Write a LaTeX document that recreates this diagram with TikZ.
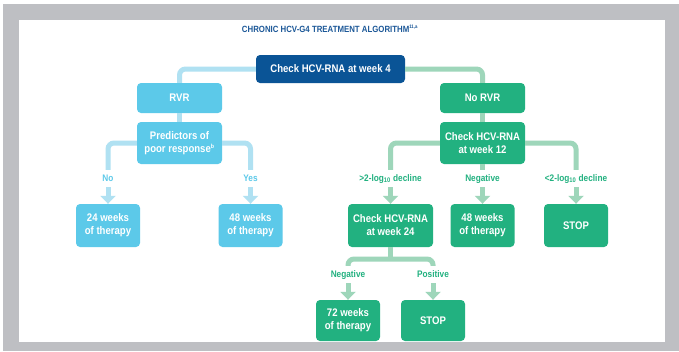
\documentclass[tikz,border=0pt]{standalone}
\usepackage{fontspec}
\setmainfont{Liberation Sans}[FakeStretch=0.87]
\usetikzlibrary{arrows.meta}
\definecolor{dblue}{RGB}{10,84,150}
\definecolor{tblue}{RGB}{28,88,152}
\definecolor{cnode}{RGB}{92,201,233}
\definecolor{cline}{RGB}{176,225,242}
\definecolor{gnode}{RGB}{34,177,128}
\definecolor{gline}{RGB}{158,214,186}
\definecolor{frame}{RGB}{190,191,195}
\begin{document}
\begin{tikzpicture}[x=1pt,y=-1pt,
  box/.style={rounded corners=4pt, text=white, align=center, inner sep=0pt,
    font=\bfseries\fontsize{11}{13}\selectfont},
  cbox/.style={box, fill=cnode},
  gbox/.style={box, fill=gnode},
  wide/.style={minimum width=85pt},
  narrow/.style={minimum width=64pt},
  lbl/.style={font=\bfseries\fontsize{9.5}{11}\selectfont, inner xsep=1pt,
    inner ysep=4pt, text height=7pt, text depth=1pt, anchor=base},
  clbl/.style={lbl, text=cnode},
  glbl/.style={lbl, text=gnode},
  cconn/.style={draw=cline, line width=5pt, rounded corners=6pt},
  gconn/.style={draw=gline, line width=5pt, rounded corners=6pt},
  carr/.style={draw=cline, line width=5pt, shorten <=1pt, -{Triangle[width=15pt,length=8pt]}},
  garr/.style={draw=gline, line width=5pt, shorten <=1pt, -{Triangle[width=15pt,length=8pt]}},
]
\useasboundingbox (0,0) rectangle (679,351);
\fill[white] (0,0) rectangle (679,351);
\fill[frame] (3,4) rectangle (679,351);
\fill[white] (19,20) rectangle (665,342);

\node[text=tblue, font=\bfseries\fontsize{9}{10}\selectfont] (title) at (330,29)
  {CHRONIC HCV-G4 TREATMENT ALGORITHM\textsuperscript{\fontsize{5}{5}\selectfont 11,a}};

% nodes
\node[box, fill=dblue, minimum width=149pt, minimum height=28pt] (top) at (330.5,69) {Check HCV-RNA at week 4};
\node[cbox, wide, minimum height=30pt] (rvr) at (179.5,98) {RVR};
\node[cbox, wide, minimum height=42pt] (pred) at (179.5,143) {Predictors of\\poor response\textsuperscript{\fontsize{6}{6}\selectfont b}};
\node[cbox, narrow, minimum height=43pt] (w24) at (108,225.5) {24 weeks\\of therapy};
\node[cbox, narrow, minimum height=43pt] (w48a) at (250.5,225.5) {48 weeks\\of therapy};

\node[gbox, wide, minimum height=30pt] (norvr) at (482.5,98) {No RVR};
\node[gbox, wide, minimum height=42pt] (chk12) at (482.5,143) {Check HCV-RNA\\at week 12};
\node[gbox, wide, minimum height=43pt] (chk24) at (390.5,225.5) {Check HCV-RNA\\at week 24};
\node[gbox, narrow, minimum height=43pt] (w48b) at (482.5,225.5) {48 weeks\\of therapy};
\node[gbox, narrow, minimum height=43pt] (stop1) at (576,225.5) {STOP};
\node[gbox, narrow, minimum height=41pt] (w72) at (348,320.5) {72 weeks\\of therapy};
\node[gbox, narrow, minimum height=41pt] (stop2) at (433,320.5) {STOP};

% labels
\node[clbl] (no) at (108,181) {No};
\node[clbl] (yes) at (250.5,181) {Yes};
\node[glbl] (gt2) at (390.5,181) {>2-log\textsubscript{10} decline};
\node[glbl] (neg1) at (482.5,181) {Negative};
\node[glbl] (lt2) at (576,181) {<2-log\textsubscript{10} decline};
\node[glbl] (neg2) at (348,277) {Negative};
\node[glbl] (pos2) at (433,277) {Positive};
\coordinate (split) at (390.5,259);

% connectors
\draw[cconn] (rvr.north) |- (top.west);
\draw[gconn] (top.east) -| (norvr.north);
\draw[cconn] (rvr.south) -- (pred.north);
\draw[gconn] (norvr.south) -- (chk12.north);
\draw[cconn] (no.north) |- (pred.west);
\draw[cconn] (pred.east) -| (yes.north);
\draw[carr] (no.south) -- (w24.north);
\draw[carr] (yes.south) -- (w48a.north);
\draw[gconn] (gt2.north) |- (chk12.west);
\draw[gconn] (chk12.east) -| (lt2.north);
\draw[gconn] (chk12.south) -- (neg1.north);
\draw[garr] (gt2.south) -- (chk24.north);
\draw[garr] (neg1.south) -- (w48b.north);
\draw[garr] (lt2.south) -- (stop1.north);
\draw[gconn] (chk24.south) -- (split);
\draw[gconn] (neg2.north) |- (split) -| (pos2.north);
\draw[garr] (neg2.south) -- (w72.north);
\draw[garr] (pos2.south) -- (stop2.north);
\end{tikzpicture}
\end{document}
